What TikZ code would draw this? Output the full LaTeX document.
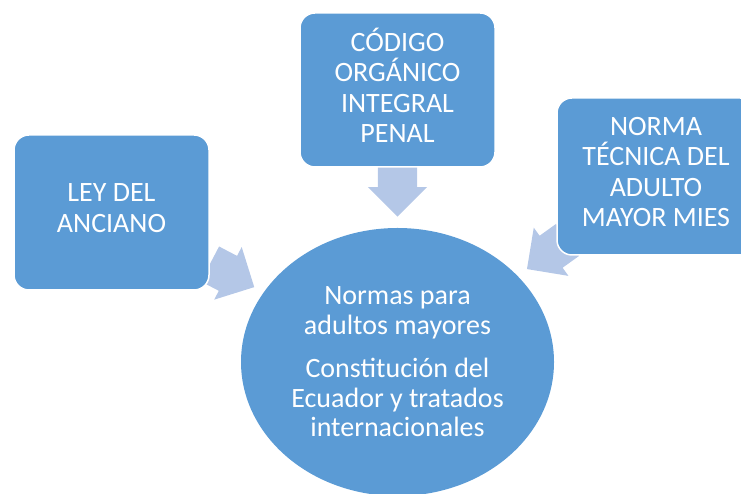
\documentclass[tikz,border=0pt]{standalone}
\usepackage{fontspec}
\setmainfont{Carlito}
\usepackage{tikz}
\usetikzlibrary{shapes.geometric,shapes.arrows,positioning,calc,backgrounds}

\definecolor{azulcaja}{HTML}{5B9BD5}
\definecolor{azulflecha}{HTML}{B4C7E7}

\tikzset{
  caja/.style={draw=white, line width=1.5pt, fill=azulcaja, rounded corners=15pt,
    minimum width=195pt, minimum height=155pt, inner sep=0pt, align=center,
    text=white, font=\fontsize{28}{30.3}\selectfont,
    execute at begin node=\strut, execute at end node=\strut},
  flecha/.style={single arrow, fill=azulflecha, draw=none, inner xsep=0pt, inner ysep=19.5pt,
    minimum height=50pt,
    single arrow head extend=10pt, single arrow tip angle=90, anchor=tip}
}

\begin{document}
\begin{tikzpicture}[x=1pt, y=1pt]
\useasboundingbox (0,0) rectangle (741,494);
\clip (0,0) rectangle (741,494);

% Elipse central
\node[ellipse, fill=azulcaja, minimum width=313pt, minimum height=268pt, inner sep=0pt,
  align=center, text=white, font=\fontsize{28}{29.5}\selectfont] (centro) at (397.5,132)
  {Normas para\\adultos mayores\\[14pt]Constitución del\\Ecuador y tratados\\internacionales};

% Cajas
\node[caja] (ley) at (111.5,281.5) {LEY DEL\\ANCIANO};
\node[caja, minimum height=154pt] (codigo) at (397.5,404) {CÓDIGO\\ORGÁNICO\\INTEGRAL\\PENAL};
\node[caja, minimum width=198pt, minimum height=157pt] (norma) at (656,317.5)
  {NORMA\\TÉCNICA DEL\\ADULTO\\MAYOR MIES};

% Flechas hacia el centro
\begin{scope}[on background layer]
\node[flecha, rotate=-27.6] (f1) at ($(ley)!0.5!(centro)$) {};
\node[flecha, rotate=-90] (f2) at ($(codigo)!0.467!(centro)$) {};
\node[flecha, rotate=-144.3] (f3) at ($(norma)!0.5!(centro)$) {};
\end{scope}
\end{tikzpicture}
\end{document}
